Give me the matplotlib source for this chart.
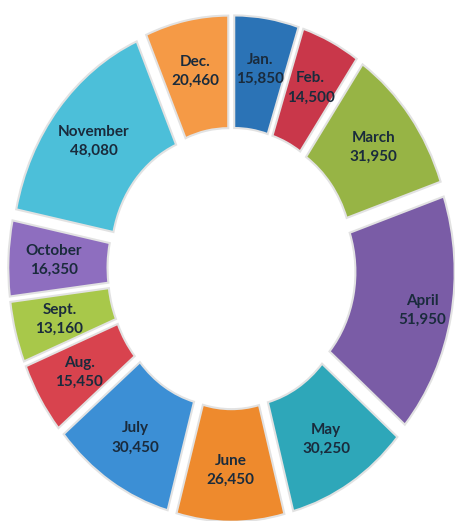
import numpy as np
import matplotlib
matplotlib.use("Agg")
import matplotlib.pyplot as plt

months = ["Jan.", "Feb.", "March", "April", "May", "June",
          "July", "Aug.", "Sept.", "October", "November", "Dec."]
values = [15850, 14500, 31950, 51950, 30250, 26450,
          30450, 15450, 13160, 16350, 48080, 20460]
colors = ["#2b73b6", "#c9374a", "#97b445", "#7a5ca6", "#2ea7b9", "#ee8a2d",
          "#3c8fd5", "#d8434e", "#a8c84a", "#8e6ebf", "#4cbfd9", "#f59a46"]
# label distance from centre (April's label sits further out)
label_r = [0.78, 0.78, 0.78, 0.86, 0.78, 0.78,
           0.78, 0.78, 0.78, 0.78, 0.78, 0.78]

fig = plt.figure(figsize=(4.56, 5.21), dpi=100)
ax = fig.add_axes([0, 0, 1, 1])

wedges, _ = ax.pie(values, colors=colors, startangle=90, counterclock=False,
                   explode=[0.08] * len(values), radius=1.0,
                   wedgeprops=dict(width=0.48, edgecolor="#e2e2e2", linewidth=1.5))

for w, m, v, r in zip(wedges, months, values, label_r):
    th = np.deg2rad((w.theta1 + w.theta2) / 2)
    cx, cy = w.center
    ax.text(cx + r * np.cos(th), cy + r * np.sin(th), f"{m}\n{v:,}",
            ha="center", va="center", fontsize=11, fontweight="bold",
            color="#1a2b3c", family="Lato", linespacing=1.45)

ax.set_aspect("auto")
ax.set_xlim(-1.12, 1.085)
ax.set_ylim(-1.077, 1.145)
ax.axis("off")
fig.savefig("out.png", dpi=100, facecolor="white")
